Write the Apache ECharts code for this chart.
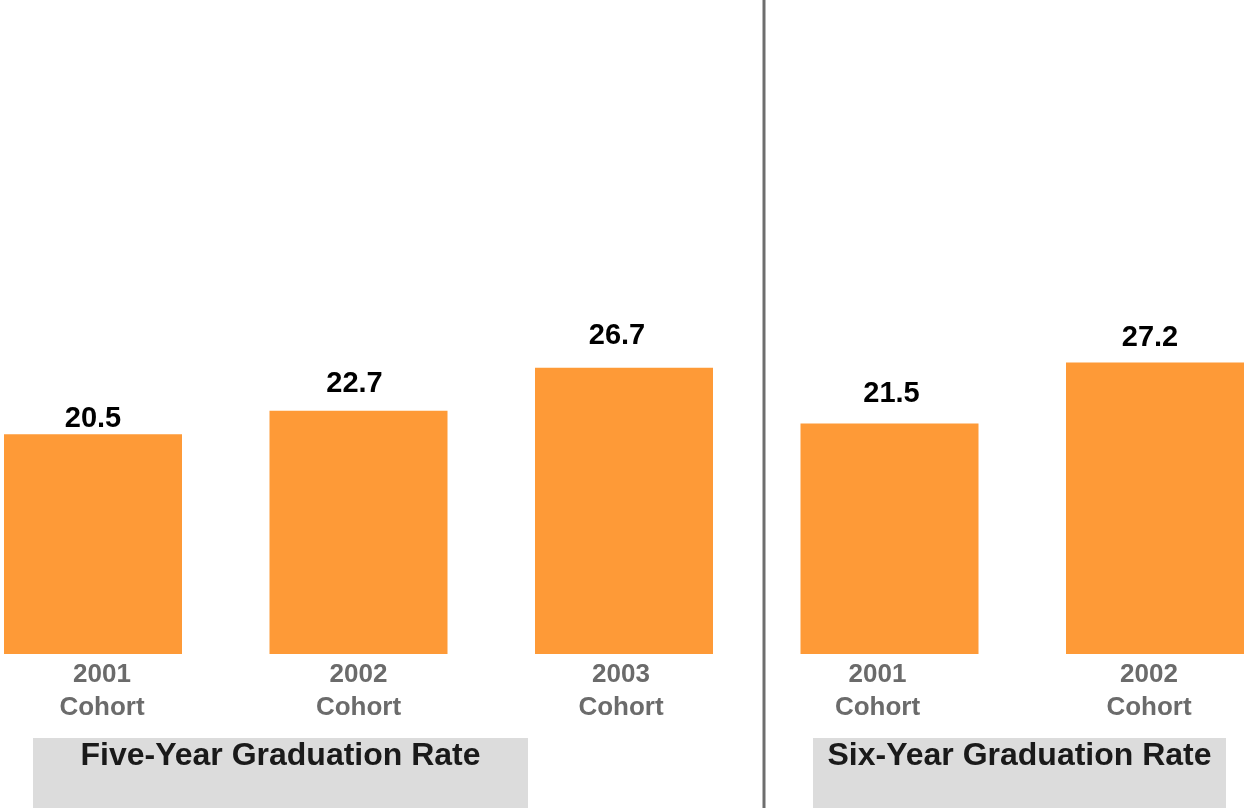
<!DOCTYPE html>
<html>
<head>
<meta charset="utf-8">
<script src="https://cdn.jsdelivr.net/npm/echarts@6/dist/echarts.min.js"></script>
<style>
  html, body { margin: 0; padding: 0; background: #fff; }
  #chart { width: 1244px; height: 808px; }
</style>
</head>
<body>
<div id="chart"></div>
<script>
// cohorts: five-year rate (3) then six-year rate (2)
const cohorts = ['2001\nCohort', '2002\nCohort', '2003\nCohort', '2001\nCohort', '2002\nCohort'];
const rates = [20.5, 22.7, 26.7, 21.5, 27.2];
const groupTitles = ['Five-Year Graduation Rate', 'Six-Year Graduation Rate'];

const FONT = 'Liberation Sans, Arial, sans-serif';

// small hand nudges so the labels sit where the original slide put them
const valueLabelNudge = [[0, 2], [-4, -9], [-7, -14], [2, -12], [-5, -7]];
const axisLabelShift = [9, 0, -3, -12, -6];

const chart = echarts.init(document.getElementById('chart'));

const rich = {};
axisLabelShift.forEach((d, i) => {
    rich['c' + i] = {
        color: '#6b6b6b',
        fontFamily: FONT,
        fontWeight: 'bold',
        fontSize: 26,
        lineHeight: 33,
        padding: d >= 0 ? [0, 0, 0, 2 * d] : [0, -2 * d, 0, 0]
    };
});

// gray caption box under each group
function captionBox(left, width, text) {
    return {
        type: 'group',
        left: left,
        top: 738,
        children: [
            { type: 'rect', shape: { x: 0, y: 0, width: width, height: 70 }, style: { fill: '#dcdcdc' } },
            {
                type: 'text',
                x: width / 2,
                y: 18,
                style: {
                    text: text,
                    fill: '#1a1a1a',
                    font: 'bold 32px ' + FONT,
                    textAlign: 'center',
                    textVerticalAlign: 'middle'
                }
            }
        ]
    };
}

chart.setOption({
    animation: false,
    grid: { left: 93, right: 89, top: 0, bottom: 154 },
    xAxis: {
        type: 'category',
        data: cohorts,
        boundaryGap: false,
        axisLine: { show: false },
        axisTick: { show: false },
        axisLabel: {
            margin: 4,
            formatter: (v, i) => v.split('\n').map(s => '{c' + i + '|' + s + '}').join('\n'),
            rich: rich
        }
    },
    yAxis: {
        type: 'value',
        min: 0,
        max: 61,
        show: false,
        splitLine: { show: false }
    },
    series: [{
        type: 'bar',
        data: rates.map((v, i) => ({ value: v, label: { offset: valueLabelNudge[i] } })),
        barWidth: 178,
        clip: false,
        itemStyle: { color: '#fe9a37' },
        label: {
            show: true,
            position: 'top',
            distance: 3,
            color: '#000',
            fontFamily: FONT,
            fontWeight: 'bold',
            fontSize: 29,
            formatter: p => p.value.toFixed(1)
        }
    }],
    graphic: [
        { type: 'line', shape: { x1: 764, y1: 0, x2: 764, y2: 808 }, style: { stroke: '#6e6e6e', lineWidth: 3 } },
        captionBox(33, 495, groupTitles[0]),
        captionBox(813, 413, groupTitles[1])
    ]
});
</script>
</body>
</html>
